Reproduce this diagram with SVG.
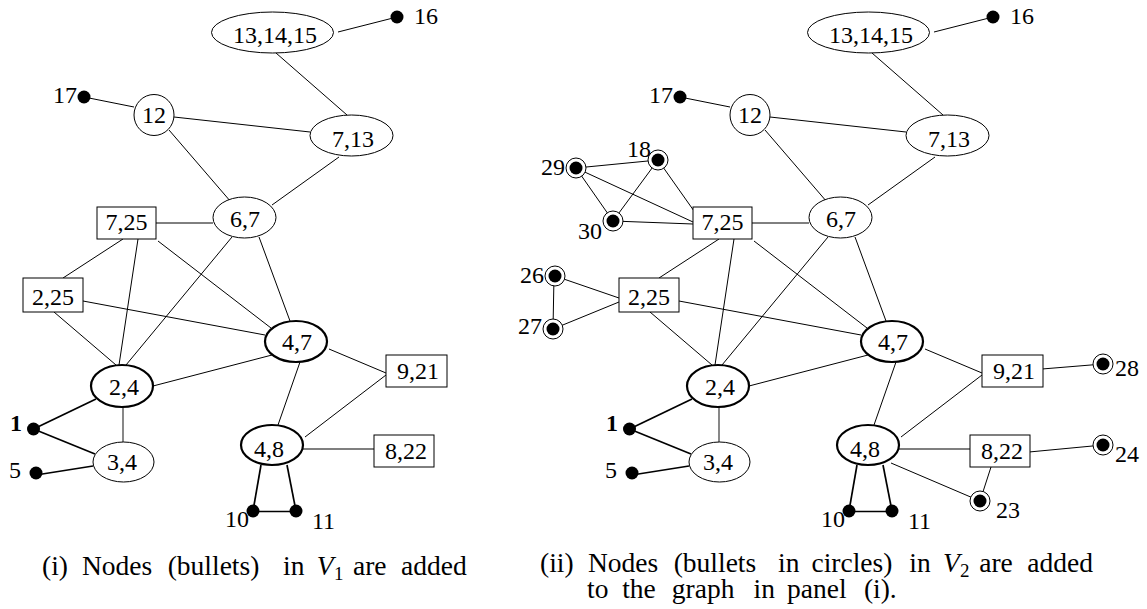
<svg xmlns="http://www.w3.org/2000/svg" width="1147" height="609" viewBox="0 0 1147 609">
<style>
.e{fill:#fff;stroke:#000;stroke-width:1}
.ek{fill:#fff;stroke:#000;stroke-width:2.2}
.r{fill:#fff;stroke:#000;stroke-width:1}
.dot{fill:#000}
.ring{fill:#fff;stroke:#000;stroke-width:1}
.t{font-family:"Liberation Serif","Times New Roman",serif;font-size:24px;fill:#000;text-anchor:middle}
.tl{font-family:"Liberation Serif","Times New Roman",serif;font-size:24px;fill:#000;text-anchor:start}
.tr{font-family:"Liberation Serif","Times New Roman",serif;font-size:24px;fill:#000;text-anchor:end}
.cap{font-family:"Liberation Serif","Times New Roman",serif;font-size:27.5px;fill:#000}
.conn line{stroke:#000;stroke-width:1;fill:none}
.conn line.k{stroke-width:1.7}
.conn line.g{stroke:#555;stroke-width:1.4}
</style>
<rect width="1147" height="609" fill="#fff"/>

<!-- connectors panel (i) -->
<g id="connectors-i" class="conn">
<line x1="338" y1="32" x2="397" y2="17"/>
<line x1="276" y1="53" x2="347" y2="115"/>
<line x1="84" y1="97" x2="134" y2="107"/>
<line x1="174" y1="117" x2="310" y2="132"/>
<line x1="169" y1="130" x2="231" y2="202"/>
<line x1="339" y1="157" x2="272" y2="205"/>
<line x1="156" y1="223" x2="213" y2="223"/>
<line x1="123" y1="239" x2="63" y2="278"/>
<line x1="138" y1="239" x2="119" y2="365"/>
<line x1="158" y1="241" x2="271" y2="328"/>
<line x1="232" y1="237" x2="126" y2="365"/>
<line x1="259" y1="237" x2="290" y2="321"/>
<line x1="83" y1="301" x2="265" y2="335"/>
<line x1="54" y1="312" x2="116" y2="365"/>
<line x1="153" y1="386" x2="272" y2="355"/>
<line x1="329" y1="349" x2="386" y2="373"/>
<line x1="300" y1="362" x2="278" y2="425"/>
<line x1="386" y1="375" x2="305" y2="437"/>
<line class="g" x1="303" y1="449" x2="374" y2="449"/>
<line class="g" x1="123" y1="407" x2="123" y2="442"/>
<line class="k" x1="33.5" y1="429" x2="96" y2="399"/>
<line class="k" x1="33.5" y1="429" x2="95" y2="454"/>
<line class="k" x1="36" y1="475" x2="93" y2="466"/>
<line class="k" x1="261" y1="465" x2="253" y2="511"/>
<line class="k" x1="287" y1="465" x2="296" y2="511"/>
<line class="k" x1="253" y1="511.5" x2="296" y2="511.5"/>
</g>

<!-- connectors panel (ii) -->
<g id="connectors-ii" class="conn">
<line x1="934" y1="32" x2="993" y2="17"/>
<line x1="872" y1="53" x2="943" y2="115"/>
<line x1="680" y1="97" x2="730" y2="107"/>
<line x1="770" y1="117" x2="906" y2="132"/>
<line x1="765" y1="130" x2="827" y2="202"/>
<line x1="935" y1="157" x2="868" y2="205"/>
<line x1="752" y1="223" x2="809" y2="223"/>
<line x1="719" y1="239" x2="659" y2="278"/>
<line x1="734" y1="239" x2="715" y2="365"/>
<line x1="754" y1="241" x2="867" y2="328"/>
<line x1="828" y1="237" x2="722" y2="365"/>
<line x1="855" y1="237" x2="886" y2="321"/>
<line x1="679" y1="301" x2="861" y2="335"/>
<line x1="650" y1="312" x2="712" y2="365"/>
<line x1="749" y1="386" x2="868" y2="355"/>
<line x1="925" y1="349" x2="982" y2="373"/>
<line x1="896" y1="362" x2="874" y2="425"/>
<line x1="982" y1="375" x2="901" y2="437"/>
<line class="g" x1="899" y1="449" x2="970" y2="449"/>
<line class="g" x1="719" y1="407" x2="719" y2="442"/>
<line class="k" x1="629.5" y1="429" x2="692" y2="399"/>
<line class="k" x1="629.5" y1="429" x2="691" y2="454"/>
<line class="k" x1="632" y1="475" x2="689" y2="466"/>
<line class="k" x1="857" y1="465" x2="849" y2="511"/>
<line class="k" x1="883" y1="465" x2="892" y2="511"/>
<line class="k" x1="849" y1="511.5" x2="892" y2="511.5"/>
<line x1="576" y1="168" x2="658" y2="160"/>
<line x1="576" y1="168" x2="613" y2="221"/>
<line x1="576" y1="168" x2="693" y2="222"/>
<line x1="658" y1="160" x2="613" y2="221"/>
<line x1="658" y1="160" x2="694" y2="211"/>
<line x1="613" y1="221" x2="693" y2="224"/>
<line x1="555" y1="276" x2="619" y2="298"/>
<line x1="554" y1="276" x2="553" y2="329"/>
<line x1="553" y1="329" x2="619" y2="302"/>
<line x1="1042" y1="369" x2="1103" y2="364"/>
<line x1="1029" y1="452" x2="1103" y2="445"/>
<line x1="891" y1="463" x2="980" y2="501"/>
<line x1="991" y1="467" x2="980" y2="501"/>
</g>

<!-- panel (i) nodes -->
<g id="i-n13-14-15"><ellipse class="e" cx="272.5" cy="32.5" rx="61" ry="20.5"/><text class="t" x="275" y="43">13,14,15</text></g>
<g id="i-n16"><circle class="dot" cx="397" cy="17" r="6.5"/><text class="tl" x="414" y="24">16</text></g>
<g id="i-n17"><circle class="dot" cx="84" cy="97" r="6.5"/><text class="tr" x="77" y="103">17</text></g>
<g id="i-n12"><ellipse class="e" cx="154" cy="115" rx="20" ry="20.5"/><text class="t" x="154" y="123">12</text></g>
<g id="i-n7-13"><ellipse class="e" cx="351.5" cy="135.5" rx="41.5" ry="20.5"/><text class="t" x="353" y="147">7,13</text></g>
<g id="i-n6-7"><ellipse class="e" cx="244.5" cy="217.5" rx="31.5" ry="20.5"/><text class="t" x="245" y="227">6,7</text></g>
<g id="i-n7-25"><rect class="r" x="97" y="207" width="59" height="32"/><text class="t" x="126.5" y="230">7,25</text></g>
<g id="i-n2-25"><rect class="r" x="23" y="278" width="60" height="34"/><text class="t" x="53" y="305">2,25</text></g>
<g id="i-n2-4"><ellipse class="ek" cx="122" cy="386" rx="31" ry="21"/><text class="t" x="124" y="395">2,4</text></g>
<g id="i-n4-7"><ellipse class="ek" cx="296" cy="341.5" rx="31" ry="20.5"/><text class="t" x="297" y="350">4,7</text></g>
<g id="i-n9-21"><rect class="r" x="386" y="355" width="61" height="32"/><text class="t" x="418" y="379">9,21</text></g>
<g id="i-n4-8"><ellipse class="ek" cx="272" cy="445" rx="31" ry="20"/><text class="t" x="269" y="457">4,8</text></g>
<g id="i-n8-22"><rect class="r" x="374" y="435" width="60" height="32"/><text class="t" x="406" y="459">8,22</text></g>
<g id="i-n3-4"><ellipse class="e" cx="123.5" cy="462" rx="30.5" ry="20"/><text class="t" x="122" y="470">3,4</text></g>
<g id="i-n1"><circle class="dot" cx="33.5" cy="429" r="6.5"/><text class="tr" x="22" y="431" font-weight="bold">1</text></g>
<g id="i-n5"><circle class="dot" cx="36" cy="473" r="6.5"/><text class="tl" x="9" y="478">5</text></g>
<g id="i-n10"><text class="tl" x="225" y="527">10</text><circle class="dot" cx="253" cy="511" r="6.5"/></g>
<g id="i-n11"><circle class="dot" cx="296" cy="511" r="6.5"/><text class="tl" x="312" y="529">11</text></g>

<!-- panel (ii) nodes -->
<g id="ii-n13-14-15"><ellipse class="e" cx="868.5" cy="32.5" rx="61" ry="20.5"/><text class="t" x="871" y="43">13,14,15</text></g>
<g id="ii-n16"><circle class="dot" cx="993" cy="17" r="6.5"/><text class="tl" x="1010" y="24">16</text></g>
<g id="ii-n17"><circle class="dot" cx="680" cy="97" r="6.5"/><text class="tr" x="673" y="103">17</text></g>
<g id="ii-n12"><ellipse class="e" cx="750" cy="115" rx="20" ry="20.5"/><text class="t" x="750" y="123">12</text></g>
<g id="ii-n7-13"><ellipse class="e" cx="947.5" cy="135.5" rx="41.5" ry="20.5"/><text class="t" x="949" y="147">7,13</text></g>
<g id="ii-n6-7"><ellipse class="e" cx="840.5" cy="217.5" rx="31.5" ry="20.5"/><text class="t" x="841" y="227">6,7</text></g>
<g id="ii-n7-25"><rect class="r" x="693" y="207" width="59" height="32"/><text class="t" x="722.5" y="230">7,25</text></g>
<g id="ii-n2-25"><rect class="r" x="619" y="278" width="60" height="34"/><text class="t" x="649" y="305">2,25</text></g>
<g id="ii-n2-4"><ellipse class="ek" cx="718" cy="386" rx="31" ry="21"/><text class="t" x="720" y="395">2,4</text></g>
<g id="ii-n4-7"><ellipse class="ek" cx="892" cy="341.5" rx="31" ry="20.5"/><text class="t" x="893" y="350">4,7</text></g>
<g id="ii-n9-21"><rect class="r" x="982" y="355" width="61" height="32"/><text class="t" x="1014" y="379">9,21</text></g>
<g id="ii-n4-8"><ellipse class="ek" cx="868" cy="445" rx="31" ry="20"/><text class="t" x="865" y="457">4,8</text></g>
<g id="ii-n8-22"><rect class="r" x="970" y="435" width="60" height="32"/><text class="t" x="1002" y="459">8,22</text></g>
<g id="ii-n3-4"><ellipse class="e" cx="719.5" cy="462" rx="30.5" ry="20"/><text class="t" x="718" y="470">3,4</text></g>
<g id="ii-n1"><circle class="dot" cx="629.5" cy="429" r="6.5"/><text class="tr" x="618" y="431" font-weight="bold">1</text></g>
<g id="ii-n5"><circle class="dot" cx="632" cy="473" r="6.5"/><text class="tl" x="605" y="478">5</text></g>
<g id="ii-n10"><text class="tl" x="821" y="527">10</text><circle class="dot" cx="849" cy="511" r="6.5"/></g>
<g id="ii-n11"><circle class="dot" cx="892" cy="511" r="6.5"/><text class="tl" x="908" y="529">11</text></g>
<g id="ii-n29"><text class="tl" x="541" y="175">29</text><circle class="ring" cx="576" cy="168" r="10"/><circle class="dot" cx="576" cy="168" r="6.5"/></g>
<g id="ii-n18"><text class="tl" x="627" y="157">18</text><circle class="ring" cx="658" cy="160" r="10"/><circle class="dot" cx="658" cy="160" r="6.5"/></g>
<g id="ii-n30"><text class="tl" x="578" y="239">30</text><circle class="ring" cx="613" cy="221" r="10"/><circle class="dot" cx="613" cy="221" r="6.5"/></g>
<g id="ii-n26"><text class="tl" x="520" y="283">26</text><circle class="ring" cx="555" cy="276" r="10"/><circle class="dot" cx="555" cy="276" r="6.5"/></g>
<g id="ii-n27"><text class="tl" x="518" y="334">27</text><circle class="ring" cx="553" cy="329" r="10"/><circle class="dot" cx="553" cy="329" r="6.5"/></g>
<g id="ii-n28"><circle class="ring" cx="1103" cy="364" r="10"/><circle class="dot" cx="1103" cy="364" r="6.5"/><text class="tl" x="1115" y="376">28</text></g>
<g id="ii-n24"><circle class="ring" cx="1103" cy="445" r="10"/><circle class="dot" cx="1103" cy="445" r="6.5"/><text class="tl" x="1115" y="462">24</text></g>
<g id="ii-n23"><circle class="ring" cx="980" cy="501" r="10"/><circle class="dot" cx="980" cy="501" r="6.5"/><text class="tl" x="996" y="518">23</text></g>

<!-- captions -->
<text class="cap" y="575"><tspan x="42">(i)</tspan><tspan x="82">Nodes</tspan><tspan x="167.7">(bullets)</tspan><tspan x="283">in</tspan><tspan x="316.7" font-style="italic">V</tspan><tspan x="334" font-size="19" dy="5">1</tspan><tspan x="353" dy="-5">are</tspan><tspan x="401">added</tspan></text>
<text class="cap" y="572"><tspan x="540">(ii)</tspan><tspan x="588">Nodes</tspan><tspan x="673.7">(bullets</tspan><tspan x="778">in</tspan><tspan x="811.5">circles)</tspan><tspan x="909.3">in</tspan><tspan x="942.9" font-style="italic">V</tspan><tspan x="960" font-size="19" dy="5">2</tspan><tspan x="979.2" dy="-5">are</tspan><tspan x="1027.3">added</tspan></text>
<text class="cap" y="598"><tspan x="587">to</tspan><tspan x="622.2">the</tspan><tspan x="671.8">graph</tspan><tspan x="753.5">in</tspan><tspan x="787.1">panel</tspan><tspan x="863.9">(i).</tspan></text>
</svg>
